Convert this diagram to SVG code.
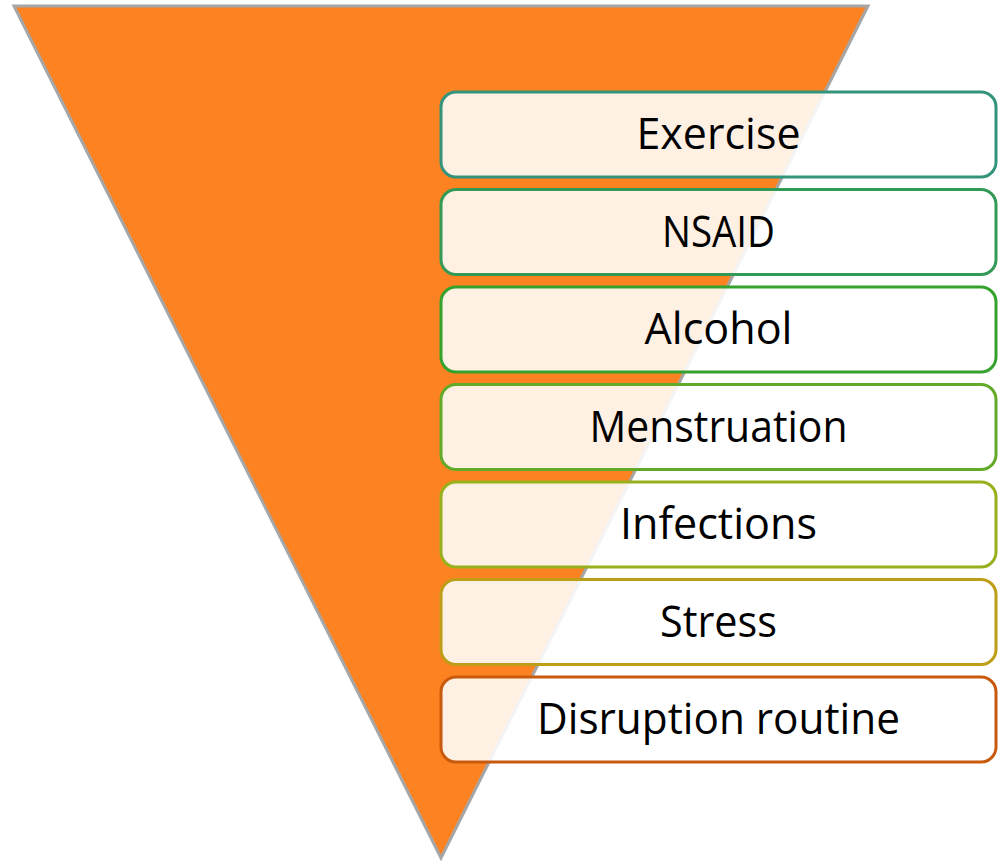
<svg xmlns="http://www.w3.org/2000/svg" width="1003" height="861" viewBox="0 0 1003 861">
  <style>
    .tri { fill: #FD8322; stroke: #A6A6A6; stroke-width: 3; stroke-linejoin: miter; }
    .box { fill: #FFFFFF; fill-opacity: 0.88; stroke-width: 3; }
    .lbl { font-family: "Open Sans", "Liberation Sans", Arial, sans-serif; font-size: 44px; fill: #000000; text-anchor: middle; }
  </style>
  <g id="funnel">
    <polygon class="tri" points="14,6 868,6 441,858"/>
  </g>
  <g id="connectors"></g>
  <g id="node-exercise">
    <rect class="box" x="441" y="92" width="555" height="85" rx="15" stroke="#33947A"/>
    <text class="lbl" x="718.5" y="149" textLength="164" lengthAdjust="spacingAndGlyphs">Exercise</text>
  </g>
  <g id="node-nsaid">
    <rect class="box" x="441" y="189.5" width="555" height="85" rx="15" stroke="#339A55"/>
    <text class="lbl" x="718.5" y="246.5" textLength="113" lengthAdjust="spacingAndGlyphs">NSAID</text>
  </g>
  <g id="node-alcohol">
    <rect class="box" x="441" y="287" width="555" height="85" rx="15" stroke="#34A22C"/>
    <text class="lbl" x="718.5" y="344" textLength="148" lengthAdjust="spacingAndGlyphs">Alcohol</text>
  </g>
  <g id="node-menstruation">
    <rect class="box" x="441" y="384.5" width="555" height="85" rx="15" stroke="#63AA28"/>
    <text class="lbl" x="718.5" y="441.5" textLength="258" lengthAdjust="spacingAndGlyphs">Menstruation</text>
  </g>
  <g id="node-infections">
    <rect class="box" x="441" y="482" width="555" height="85" rx="15" stroke="#98B01C"/>
    <text class="lbl" x="718.5" y="539" textLength="197" lengthAdjust="spacingAndGlyphs">Infections</text>
  </g>
  <g id="node-stress">
    <rect class="box" x="441" y="579.5" width="555" height="85" rx="15" stroke="#BD9E16"/>
    <text class="lbl" x="718.5" y="636.5" textLength="117" lengthAdjust="spacingAndGlyphs">Stress</text>
  </g>
  <g id="node-disruption">
    <rect class="box" x="441" y="677" width="555" height="85" rx="15" stroke="#C85A0E"/>
    <text class="lbl" x="718.5" y="734" textLength="363" lengthAdjust="spacingAndGlyphs">Disruption routine</text>
  </g>
</svg>
